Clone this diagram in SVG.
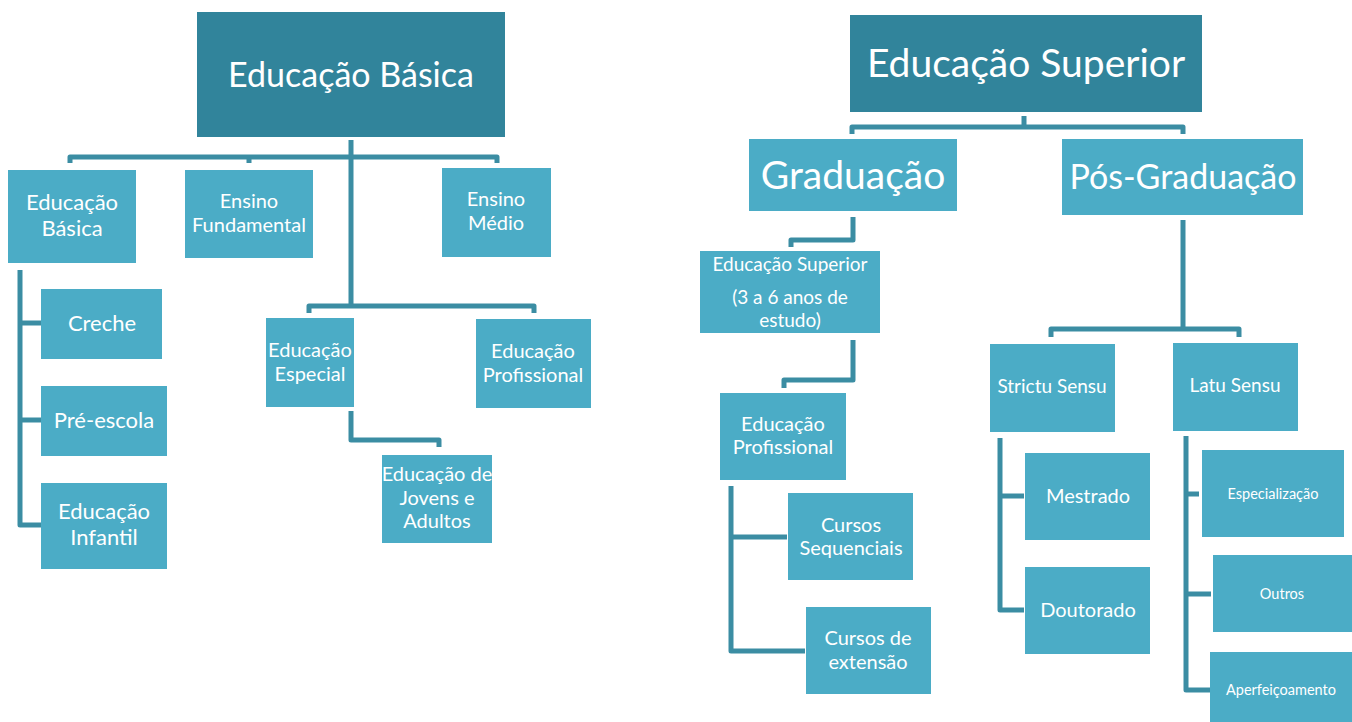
<svg xmlns="http://www.w3.org/2000/svg" width="1352" height="722" viewBox="0 0 1352 722">
<style>
.box{fill:#4BACC6}
.hdr{fill:#31849B}
.t{fill:#fff;font-family:Lato,"Open Sans","Liberation Sans",sans-serif;text-anchor:middle}
.c{fill:none;stroke:#3B8DA3;stroke-width:5;stroke-linejoin:round}
</style>
<rect width="1352" height="722" fill="#fff"/>
<g id="connectors">
<path class="c" d="M351,140 V306 M70,163 V157 H497 V163 M249,157 V163"/>
<path class="c" d="M309,313 V306 H534 V313"/>
<path class="c" d="M351,411 V440 H439 V447"/>
<path class="c" d="M20,270 V525 H41 M20,323 H41 M20,420 H41"/>
<path class="c" d="M1024,116 V127 M852,134 V127 H1183 V134"/>
<path class="c" d="M853,217 V240 H791 V247"/>
<path class="c" d="M853,340 V380 H784 V388"/>
<path class="c" d="M731,486 V651 H805 M731,537 H787"/>
<path class="c" d="M1183,220 V329 M1051,337 V329 H1239 V337"/>
<path class="c" d="M1000,438 V610 H1024 M1000,496 H1024"/>
<path class="c" d="M1186,436 V690 H1210 M1186,494 H1199 M1186,594 H1211"/>
</g>
<g id="n-basica-hdr"><rect class="hdr" x="197" y="12" width="308" height="125"/><text class="t" x="351" y="87" font-size="34">Educação Básica</text></g>
<g id="n-basica"><rect class="box" x="8" y="170" width="128" height="93"/><text class="t" x="72" y="210" font-size="22">Educação</text><text class="t" x="72" y="236" font-size="22">Básica</text></g>
<g id="n-fundamental"><rect class="box" x="185" y="170" width="128" height="88"/><text class="t" x="249" y="208" font-size="20">Ensino</text><text class="t" x="249" y="232" font-size="20">Fundamental</text></g>
<g id="n-medio"><rect class="box" x="442" y="168" width="109" height="89"/><text class="t" x="496" y="206" font-size="20">Ensino</text><text class="t" x="496" y="230" font-size="20">Médio</text></g>
<g id="n-especial"><rect class="box" x="266" y="318" width="88" height="89"/><text class="t" x="310" y="357" font-size="20">Educação</text><text class="t" x="310" y="381" font-size="20">Especial</text></g>
<g id="n-profissional1"><rect class="box" x="476" y="319" width="115" height="89"/><text class="t" x="533" y="358" font-size="20">Educação</text><text class="t" x="533" y="382" font-size="20">Profissional</text></g>
<g id="n-eja"><rect class="box" x="382" y="455" width="110" height="88"/><text class="t" x="437" y="481" font-size="20">Educação de</text><text class="t" x="437" y="505" font-size="20">Jovens e</text><text class="t" x="437" y="528" font-size="20">Adultos</text></g>
<g id="n-creche"><rect class="box" x="41" y="289" width="121" height="70"/><text class="t" x="102" y="331" font-size="22">Creche</text></g>
<g id="n-preescola"><rect class="box" x="41" y="386" width="126" height="70"/><text class="t" x="104" y="428" font-size="22">Pré-escola</text></g>
<g id="n-infantil"><rect class="box" x="41" y="483" width="126" height="86"/><text class="t" x="104" y="519" font-size="22">Educação</text><text class="t" x="104" y="545" font-size="22">Infantil</text></g>
<g id="n-superior-hdr"><rect class="hdr" x="850" y="15" width="352" height="97"/><text class="t" x="1026" y="77" font-size="39">Educação Superior</text></g>
<g id="n-graduacao"><rect class="box" x="749" y="139" width="208" height="72"/><text class="t" x="853" y="189" font-size="39">Graduação</text></g>
<g id="n-posgrad"><rect class="box" x="1062" y="139" width="241" height="76"/><text class="t" x="1183" y="189" font-size="34">Pós-Graduação</text></g>
<g id="n-es"><rect class="box" x="700" y="251" width="180" height="82"/><text class="t" x="790" y="271" font-size="19">Educação Superior</text><text class="t" x="790" y="304" font-size="19">(3 a 6 anos de</text><text class="t" x="790" y="327" font-size="19">estudo)</text></g>
<g id="n-profissional2"><rect class="box" x="720" y="393" width="126" height="87"/><text class="t" x="783" y="431" font-size="20">Educação</text><text class="t" x="783" y="454" font-size="20">Profissional</text></g>
<g id="n-sequenciais"><rect class="box" x="788" y="493" width="125" height="87"/><text class="t" x="851" y="532" font-size="20">Cursos</text><text class="t" x="851" y="555" font-size="20">Sequenciais</text></g>
<g id="n-extensao"><rect class="box" x="806" y="607" width="125" height="87"/><text class="t" x="868" y="645" font-size="20">Cursos de</text><text class="t" x="868" y="669" font-size="20">extensão</text></g>
<g id="n-strictu"><rect class="box" x="990" y="344" width="125" height="88"/><text class="t" x="1052" y="393" font-size="19">Strictu Sensu</text></g>
<g id="n-latu"><rect class="box" x="1173" y="343" width="125" height="88"/><text class="t" x="1235" y="392" font-size="19">Latu Sensu</text></g>
<g id="n-mestrado"><rect class="box" x="1025" y="453" width="125" height="87"/><text class="t" x="1088" y="503" font-size="20">Mestrado</text></g>
<g id="n-doutorado"><rect class="box" x="1025" y="567" width="125" height="87"/><text class="t" x="1088" y="617" font-size="20">Doutorado</text></g>
<g id="n-especializacao"><rect class="box" x="1202" y="450" width="142" height="87"/><text class="t" x="1273" y="499" font-size="14.5">Especialização</text></g>
<g id="n-outros"><rect class="box" x="1213" y="555" width="139" height="77"/><text class="t" x="1282" y="599" font-size="14.5">Outros</text></g>
<g id="n-aperfeicoamento"><rect class="box" x="1210" y="652" width="142" height="70"/><text class="t" x="1281" y="695" font-size="14.5">Aperfeiçoamento</text></g>
</svg>
